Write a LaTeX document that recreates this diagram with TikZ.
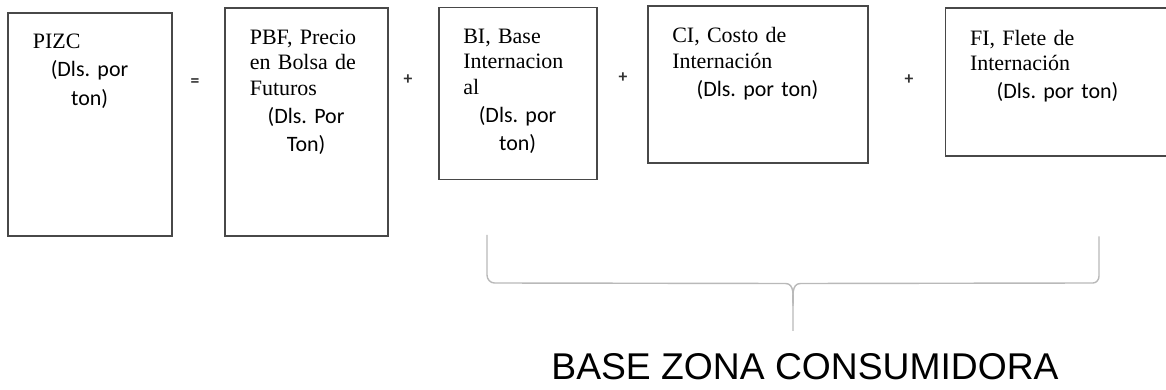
\documentclass[tikz,border=0pt]{standalone}
\usepackage{fontspec}
\setmainfont{Liberation Serif}
\setsansfont{Carlito}
\newfontfamily\arialfont{Liberation Sans}
\usetikzlibrary{positioning,calc}
\frenchspacing
\definecolor{G1}{RGB}{72,72,72}
\definecolor{G2}{RGB}{50,50,50}
\definecolor{G3}{RGB}{185,185,185}
\tikzstyle{caja}=[draw=G1, line width=0.9pt, inner sep=0]
\tikzstyle{texto}=[inner sep=0, anchor=north west, align=left, font=\fontsize{12.5}{14.5}\selectfont]
\tikzstyle{signo}=[inner sep=0, G2, font=\sffamily\bfseries\fontsize{10}{10}\selectfont]
\tikzstyle{llave}=[line width=0.8pt, G3]
\newcommand{\unidad}[1]{{\centering\sffamily\fontsize{12.5}{16}\selectfont #1\par}}

\begin{document}
\begin{tikzpicture}
    \useasboundingbox (0,0) rectangle (23.32,-7.8);
    \node[caja, minimum width=3.27cm, minimum height=4.47cm] (pizc) at (1.80,-2.49) {};
    \node[caja, minimum width=3.25cm, minimum height=4.55cm] (pbf) at (6.13,-2.44) {};
    \node[caja, minimum width=3.17cm, minimum height=3.44cm] (bi) at (10.36,-1.87) {};
    \node[caja, minimum width=4.41cm, minimum height=3.15cm] (ci) at (15.16,-1.69) {};
    \node[caja, minimum width=4.50cm, minimum height=2.95cm] (fi) at (21.16,-1.64) {};
    \node[texto, text width=2.27cm] (tpizc) at ([shift={(0.5,-0.44)}]pizc.north west) {PIZC\par\unidad{(Dls. por\\ton)}};
    \node[texto, text width=2.25cm] (tpbf) at ([shift={(0.5,-0.44)}]pbf.north west) {PBF, Precio\\en Bolsa de\\Futuros\par\unidad{(Dls. Por\\Ton)}};
    \node[texto, text width=2.17cm] (tbi) at ([shift={(0.5,-0.44)}]bi.north west) {BI, Base\\Internacion\\al\par\unidad{(Dls. por\\ton)}};
    \node[texto, text width=3.41cm] (tci) at ([shift={(0.5,-0.44)}]ci.north west) {CI, Costo de\\Internación\par\unidad{(Dls. por ton)}};
    \node[texto, text width=3.50cm] (tfi) at ([shift={(0.5,-0.44)}]fi.north west) {FI, Flete de\\Internación\par\unidad{(Dls. por ton)}};
    % signos entre cajas
    \node[signo] (igual) at (3.90,-1.66) {=};
    \node[signo] (mas1) at (8.16,-1.60) {+};
    \node[signo] (mas2) at (12.46,-1.56) {+};
    \node[signo] (mas3) at (18.18,-1.60) {+};
    % llave
    \coordinate (izq) at (9.74,-4.70);
    \coordinate (der) at (21.98,-4.73);
    \coordinate (punta) at (15.86,-6.62);
    \draw[llave] (izq) -- ++(0,-0.80) to[out=-90,in=180] ++(0.15,-0.16) -- ($(punta)+(-0.15,0.95)$) to[out=0,in=90] ($(punta)+(0,0.50)$) -- (punta);
    \draw[llave] ($(punta)+(0,0.50)$) to[out=90,in=180] ($(punta)+(0.15,0.95)$) -- ($(der)+(-0.12,-0.93)$) to[out=0,in=-90] ++(0.12,0.14) -- (der);
    \node[anchor=base, inner sep=0, font=\arialfont\fontsize{21.2}{24}\selectfont] (bzc) at (16.10,-7.58) {BASE ZONA CONSUMIDORA};
\end{tikzpicture}
\end{document}
